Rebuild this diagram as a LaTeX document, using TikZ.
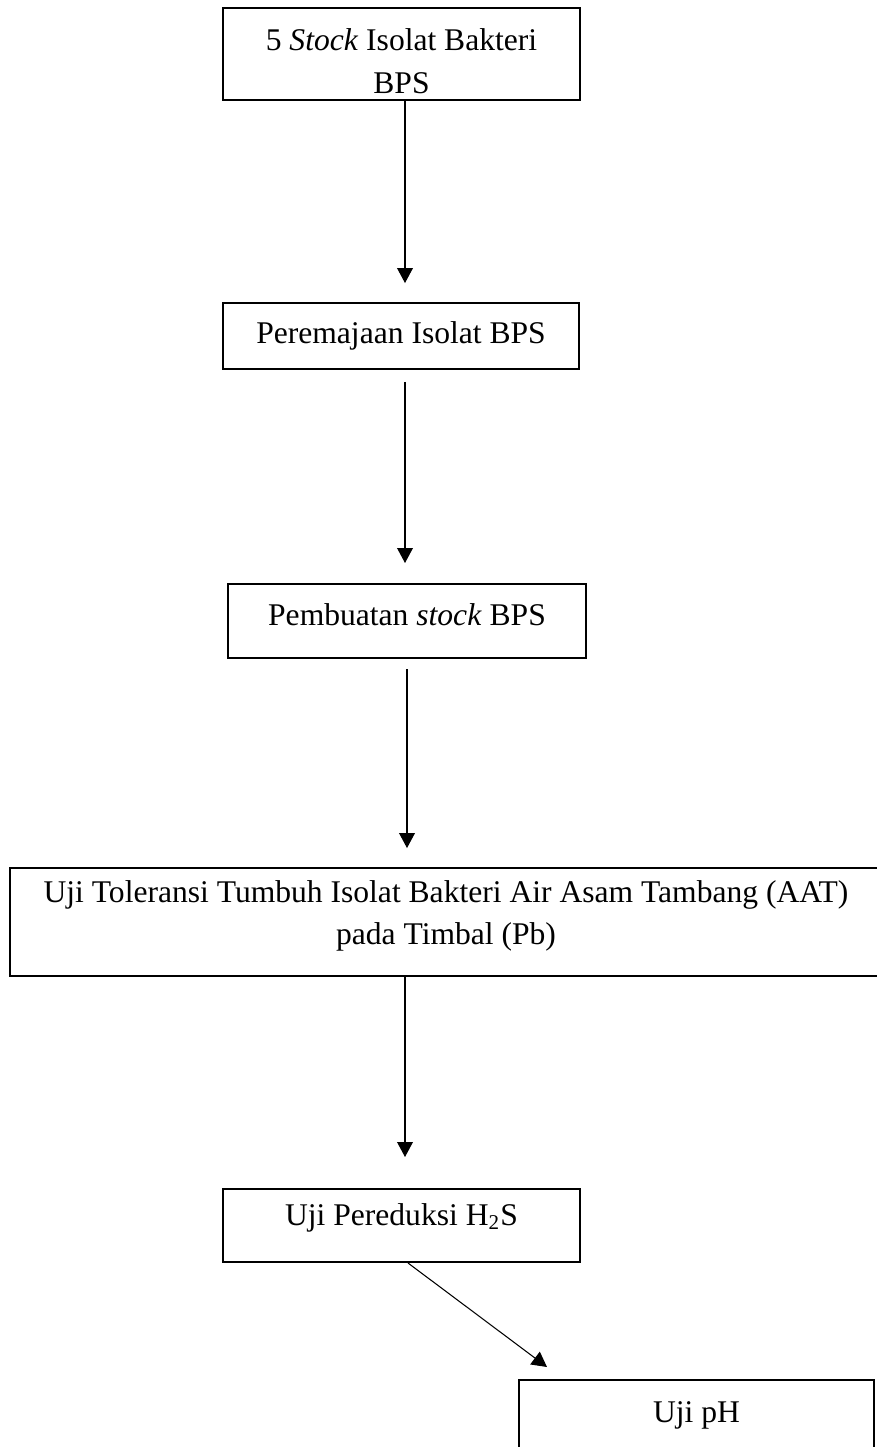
\documentclass[tikz,border=0pt]{standalone}
\usepackage{fontspec}
\setmainfont{Liberation Serif}
\usepackage{tikz}
\usetikzlibrary{shapes,arrows.meta,positioning}
\tikzset{
	procbox/.style={draw, line width=0.76pt, anchor=north, inner sep=0pt, align=flush center, font=\fontsize{12}{16}\selectfont},
	flowarrow/.style={-{Triangle[length=5.7pt,width=6pt]}, line width=0.4pt}
}
\begin{document}
\begin{tikzpicture}[x=0.38pt,y=-0.38pt]
					\useasboundingbox (0,0) rectangle (876,1447);
					\node[procbox, minimum width=135.66pt, text width=135.66pt, text height=16.34pt, text depth=18.62pt] (stock) at (401.5,7) {5 \textit{Stock} Isolat Bakteri\\BPS};
					\node[procbox, minimum width=135.28pt, text height=15.58pt, text depth=9.5pt] (remaja) at (401,302) {Peremajaan Isolat BPS};
					\node[procbox, minimum width=136.04pt, text height=15.58pt, text depth=12.54pt] (buat) at (407,583) {Pembuatan \textit{stock} BPS};
					\node[procbox, minimum width=331.36pt, text width=331.36pt, text height=12.92pt, text depth=28.12pt] (toleransi) at (446,867) {Uji Toleransi Tumbuh Isolat Bakteri Air Asam Tambang (AAT)\\pada Timbal (Pb)};
					\node[procbox, minimum width=135.66pt, text height=13.68pt, text depth=14.06pt] (hs) at (401.5,1188) {Uji Pereduksi H\textsubscript{2}S};
					\node[procbox, minimum width=134.9pt, text height=15.96pt, text depth=15.2pt] (ph) at (696.5,1379) {Uji pH};
					\coordinate (phin) at (547,1367);
					\draw[flowarrow, shorten >=7.2pt] ([xshift=1.33pt]stock.south) -- ([xshift=1.33pt]stock.south |- remaja.north);
					\draw[flowarrow, shorten <=4.56pt, shorten >=7.6pt] ([xshift=1.52pt]remaja.south) -- ([xshift=1.52pt]remaja.south |- buat.north);
					\draw[flowarrow, shorten <=3.8pt, shorten >=7.2pt] (buat.south) -- (buat.south |- toleransi.north);
					\draw[flowarrow, shorten >=11.78pt] ([xshift=1.33pt]hs.north |- toleransi.south) -- ([xshift=1.33pt]hs.north);
					\draw[flowarrow] ([xshift=2.47pt]hs.south) -- (phin);
				\end{tikzpicture}
\end{document}
